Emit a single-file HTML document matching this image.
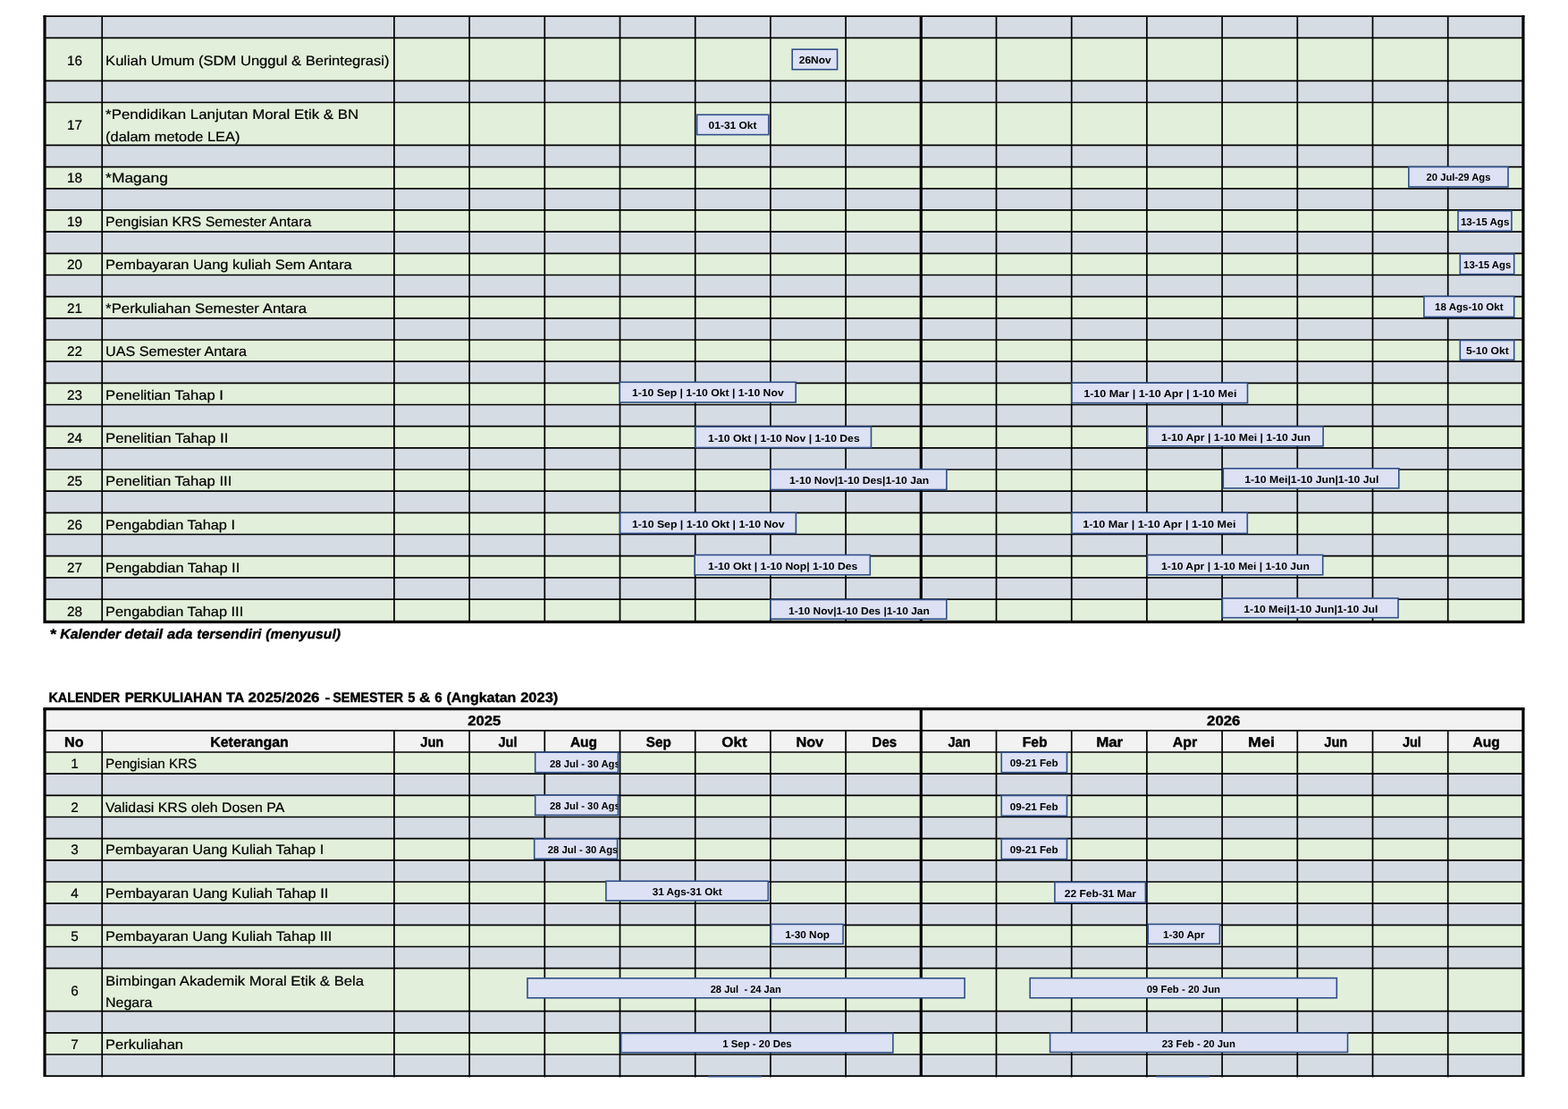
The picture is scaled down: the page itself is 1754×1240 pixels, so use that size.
<!DOCTYPE html>
<html lang="id">
<head>
<meta charset="utf-8">
<title>Kalender Perkuliahan TA 2025/2026</title>
<style>
html,body{margin:0;padding:0;background:#fff;}
body{width:1754px;height:1240px;overflow:hidden;}
svg{display:block;}
svg text{stroke:#000;stroke-width:0.2px;}
svg text.hb{stroke-width:0.4px;}
svg text.bx{stroke:none;}
svg text{font-family:"Liberation Sans",sans-serif;fill:#000;white-space:pre;text-rendering:geometricPrecision;}
</style>
</head>
<body>
<svg width="1754" height="1240" viewBox="0 0 1754 1240">
<rect width="1754" height="1240" fill="#fff"/>
<g id="table1">
<g id="fills1">
<rect x="50.00" y="18.18" width="1653.90" height="24.17" fill="#D6DCE4"/>
<rect x="50.00" y="42.35" width="1653.90" height="47.97" fill="#E2EFDA"/>
<rect x="50.00" y="90.32" width="1653.90" height="24.17" fill="#D6DCE4"/>
<rect x="50.00" y="114.49" width="1653.90" height="47.97" fill="#E2EFDA"/>
<rect x="50.00" y="162.46" width="1653.90" height="24.17" fill="#D6DCE4"/>
<rect x="50.00" y="186.63" width="1653.90" height="24.17" fill="#E2EFDA"/>
<rect x="50.00" y="210.80" width="1653.90" height="24.17" fill="#D6DCE4"/>
<rect x="50.00" y="234.97" width="1653.90" height="24.17" fill="#E2EFDA"/>
<rect x="50.00" y="259.14" width="1653.90" height="24.17" fill="#D6DCE4"/>
<rect x="50.00" y="283.31" width="1653.90" height="24.17" fill="#E2EFDA"/>
<rect x="50.00" y="307.48" width="1653.90" height="24.17" fill="#D6DCE4"/>
<rect x="50.00" y="331.65" width="1653.90" height="24.17" fill="#E2EFDA"/>
<rect x="50.00" y="355.82" width="1653.90" height="24.17" fill="#D6DCE4"/>
<rect x="50.00" y="379.99" width="1653.90" height="24.17" fill="#E2EFDA"/>
<rect x="50.00" y="404.16" width="1653.90" height="24.17" fill="#D6DCE4"/>
<rect x="50.00" y="428.33" width="1653.90" height="24.17" fill="#E2EFDA"/>
<rect x="50.00" y="452.50" width="1653.90" height="24.17" fill="#D6DCE4"/>
<rect x="50.00" y="476.67" width="1653.90" height="24.17" fill="#E2EFDA"/>
<rect x="50.00" y="500.84" width="1653.90" height="24.17" fill="#D6DCE4"/>
<rect x="50.00" y="525.01" width="1653.90" height="24.17" fill="#E2EFDA"/>
<rect x="50.00" y="549.18" width="1653.90" height="24.17" fill="#D6DCE4"/>
<rect x="50.00" y="573.35" width="1653.90" height="24.17" fill="#E2EFDA"/>
<rect x="50.00" y="597.52" width="1653.90" height="24.17" fill="#D6DCE4"/>
<rect x="50.00" y="621.69" width="1653.90" height="24.17" fill="#E2EFDA"/>
<rect x="50.00" y="645.86" width="1653.90" height="24.17" fill="#D6DCE4"/>
<rect x="50.00" y="670.03" width="1653.90" height="24.17" fill="#E2EFDA"/>
</g>
<g id="grid1">
<line x1="50.00" y1="42.35" x2="1703.90" y2="42.35" stroke="#000" stroke-width="1.7"/>
<line x1="50.00" y1="90.32" x2="1703.90" y2="90.32" stroke="#000" stroke-width="1.7"/>
<line x1="50.00" y1="114.49" x2="1703.90" y2="114.49" stroke="#000" stroke-width="1.7"/>
<line x1="50.00" y1="162.46" x2="1703.90" y2="162.46" stroke="#000" stroke-width="1.7"/>
<line x1="50.00" y1="186.63" x2="1703.90" y2="186.63" stroke="#000" stroke-width="1.7"/>
<line x1="50.00" y1="210.80" x2="1703.90" y2="210.80" stroke="#000" stroke-width="1.7"/>
<line x1="50.00" y1="234.97" x2="1703.90" y2="234.97" stroke="#000" stroke-width="1.7"/>
<line x1="50.00" y1="259.14" x2="1703.90" y2="259.14" stroke="#000" stroke-width="1.7"/>
<line x1="50.00" y1="283.31" x2="1703.90" y2="283.31" stroke="#000" stroke-width="1.7"/>
<line x1="50.00" y1="307.48" x2="1703.90" y2="307.48" stroke="#000" stroke-width="1.7"/>
<line x1="50.00" y1="331.65" x2="1703.90" y2="331.65" stroke="#000" stroke-width="1.7"/>
<line x1="50.00" y1="355.82" x2="1703.90" y2="355.82" stroke="#000" stroke-width="1.7"/>
<line x1="50.00" y1="379.99" x2="1703.90" y2="379.99" stroke="#000" stroke-width="1.7"/>
<line x1="50.00" y1="404.16" x2="1703.90" y2="404.16" stroke="#000" stroke-width="1.7"/>
<line x1="50.00" y1="428.33" x2="1703.90" y2="428.33" stroke="#000" stroke-width="1.7"/>
<line x1="50.00" y1="452.50" x2="1703.90" y2="452.50" stroke="#000" stroke-width="1.7"/>
<line x1="50.00" y1="476.67" x2="1703.90" y2="476.67" stroke="#000" stroke-width="1.7"/>
<line x1="50.00" y1="500.84" x2="1703.90" y2="500.84" stroke="#000" stroke-width="1.7"/>
<line x1="50.00" y1="525.01" x2="1703.90" y2="525.01" stroke="#000" stroke-width="1.7"/>
<line x1="50.00" y1="549.18" x2="1703.90" y2="549.18" stroke="#000" stroke-width="1.7"/>
<line x1="50.00" y1="573.35" x2="1703.90" y2="573.35" stroke="#000" stroke-width="1.7"/>
<line x1="50.00" y1="597.52" x2="1703.90" y2="597.52" stroke="#000" stroke-width="1.7"/>
<line x1="50.00" y1="621.69" x2="1703.90" y2="621.69" stroke="#000" stroke-width="1.7"/>
<line x1="50.00" y1="645.86" x2="1703.90" y2="645.86" stroke="#000" stroke-width="1.7"/>
<line x1="50.00" y1="670.03" x2="1703.90" y2="670.03" stroke="#000" stroke-width="1.7"/>
<line x1="114.20" y1="18.18" x2="114.20" y2="694.20" stroke="#000" stroke-width="1.7"/>
<line x1="440.90" y1="18.18" x2="440.90" y2="694.20" stroke="#000" stroke-width="1.7"/>
<line x1="525.10" y1="18.18" x2="525.10" y2="694.20" stroke="#000" stroke-width="1.7"/>
<line x1="609.30" y1="18.18" x2="609.30" y2="694.20" stroke="#000" stroke-width="1.7"/>
<line x1="693.50" y1="18.18" x2="693.50" y2="694.20" stroke="#000" stroke-width="1.7"/>
<line x1="777.70" y1="18.18" x2="777.70" y2="694.20" stroke="#000" stroke-width="1.7"/>
<line x1="861.90" y1="18.18" x2="861.90" y2="694.20" stroke="#000" stroke-width="1.7"/>
<line x1="946.10" y1="18.18" x2="946.10" y2="694.20" stroke="#000" stroke-width="1.7"/>
<line x1="1114.50" y1="18.18" x2="1114.50" y2="694.20" stroke="#000" stroke-width="1.7"/>
<line x1="1198.70" y1="18.18" x2="1198.70" y2="694.20" stroke="#000" stroke-width="1.7"/>
<line x1="1282.90" y1="18.18" x2="1282.90" y2="694.20" stroke="#000" stroke-width="1.7"/>
<line x1="1367.10" y1="18.18" x2="1367.10" y2="694.20" stroke="#000" stroke-width="1.7"/>
<line x1="1451.30" y1="18.18" x2="1451.30" y2="694.20" stroke="#000" stroke-width="1.7"/>
<line x1="1535.50" y1="18.18" x2="1535.50" y2="694.20" stroke="#000" stroke-width="1.7"/>
<line x1="1619.70" y1="18.18" x2="1619.70" y2="694.20" stroke="#000" stroke-width="1.7"/>
<line x1="48.50" y1="18.15" x2="1705.50" y2="18.15" stroke="#000" stroke-width="1.7"/>
<line x1="1030.30" y1="18.18" x2="1030.30" y2="694.20" stroke="#000" stroke-width="3.2"/>
<line x1="50.00" y1="17.25" x2="50.00" y2="696.90" stroke="#000" stroke-width="3.2"/>
<line x1="1703.90" y1="17.25" x2="1703.90" y2="696.90" stroke="#000" stroke-width="3.2"/>
<line x1="50.00" y1="695.30" x2="1703.90" y2="695.30" stroke="#000" stroke-width="3.2"/>
</g>
<g id="labels1">
<text x="83.40" y="73.00" font-size="15.3" text-anchor="middle">16</text>
<text x="118.10" y="73.00" font-size="15.3" textLength="317.4" lengthAdjust="spacingAndGlyphs">Kuliah Umum (SDM Unggul &amp; Berintegrasi)</text>
<text x="83.40" y="144.50" font-size="15.3" text-anchor="middle">17</text>
<text x="118.10" y="133.00" font-size="15.3" textLength="283.1" lengthAdjust="spacingAndGlyphs">*Pendidikan Lanjutan Moral Etik &amp; BN</text>
<text x="118.10" y="157.90" font-size="15.3" textLength="150.3" lengthAdjust="spacingAndGlyphs">(dalam metode LEA)</text>
<text x="83.40" y="204.45" font-size="15.3" text-anchor="middle">18</text>
<text x="118.10" y="204.45" font-size="15.3" textLength="69.8" lengthAdjust="spacingAndGlyphs">*Magang</text>
<text x="83.40" y="252.65" font-size="15.3" text-anchor="middle">19</text>
<text x="118.10" y="252.65" font-size="15.3" textLength="230.2" lengthAdjust="spacingAndGlyphs">Pengisian KRS Semester Antara</text>
<text x="83.40" y="300.80" font-size="15.3" text-anchor="middle">20</text>
<text x="118.10" y="300.80" font-size="15.3" textLength="275.7" lengthAdjust="spacingAndGlyphs">Pembayaran Uang kuliah Sem Antara</text>
<text x="83.40" y="349.72" font-size="15.3" text-anchor="middle">21</text>
<text x="118.10" y="349.72" font-size="15.3" textLength="225.1" lengthAdjust="spacingAndGlyphs">*Perkuliahan Semester Antara</text>
<text x="83.40" y="398.06" font-size="15.3" text-anchor="middle">22</text>
<text x="118.10" y="398.06" font-size="15.3" textLength="158.0" lengthAdjust="spacingAndGlyphs">UAS Semester Antara</text>
<text x="83.40" y="447.05" font-size="15.3" text-anchor="middle">23</text>
<text x="118.10" y="447.05" font-size="15.3" textLength="131.8" lengthAdjust="spacingAndGlyphs">Penelitian Tahap I</text>
<text x="83.40" y="494.70" font-size="15.3" text-anchor="middle">24</text>
<text x="118.10" y="494.70" font-size="15.3" textLength="137.2" lengthAdjust="spacingAndGlyphs">Penelitian Tahap II</text>
<text x="83.40" y="542.75" font-size="15.3" text-anchor="middle">25</text>
<text x="118.10" y="542.75" font-size="15.3" textLength="141.2" lengthAdjust="spacingAndGlyphs">Penelitian Tahap III</text>
<text x="83.40" y="591.80" font-size="15.3" text-anchor="middle">26</text>
<text x="118.10" y="591.80" font-size="15.3" textLength="144.9" lengthAdjust="spacingAndGlyphs">Pengabdian Tahap I</text>
<text x="83.40" y="640.00" font-size="15.3" text-anchor="middle">27</text>
<text x="118.10" y="640.00" font-size="15.3" textLength="150.1" lengthAdjust="spacingAndGlyphs">Pengabdian Tahap II</text>
<text x="83.40" y="688.60" font-size="15.3" text-anchor="middle">28</text>
<text x="118.10" y="688.60" font-size="15.3" textLength="154.1" lengthAdjust="spacingAndGlyphs">Pengabdian Tahap III</text>
</g>
<g id="boxes1">
<rect x="886.20" y="55.20" width="50.40" height="22.50" fill="#DCE1F3" stroke="#2F4E87" stroke-width="1.6"/>
<text x="893.80" y="71.00" font-size="11.5" font-weight="bold" class="bx" textLength="35.9" lengthAdjust="spacingAndGlyphs">26Nov</text>
<rect x="779.60" y="128.30" width="80.20" height="22.30" fill="#DCE1F3" stroke="#2F4E87" stroke-width="1.6"/>
<text x="792.60" y="144.00" font-size="11.5" font-weight="bold" class="bx" textLength="53.9" lengthAdjust="spacingAndGlyphs">01-31 Okt</text>
<rect x="1575.80" y="186.60" width="111.20" height="22.30" fill="#DCE1F3" stroke="#2F4E87" stroke-width="1.6"/>
<text x="1595.60" y="202.00" font-size="11.5" font-weight="bold" class="bx" textLength="71.8" lengthAdjust="spacingAndGlyphs">20 Jul-29 Ags</text>
<rect x="1631.00" y="235.80" width="59.90" height="22.40" fill="#DCE1F3" stroke="#2F4E87" stroke-width="1.6"/>
<text x="1633.90" y="252.00" font-size="11.5" font-weight="bold" class="bx" textLength="54.5" lengthAdjust="spacingAndGlyphs">13-15 Ags</text>
<rect x="1633.30" y="284.00" width="60.40" height="22.60" fill="#DCE1F3" stroke="#2F4E87" stroke-width="1.6"/>
<text x="1637.10" y="300.00" font-size="11.5" font-weight="bold" class="bx" textLength="53.2" lengthAdjust="spacingAndGlyphs">13-15 Ags</text>
<rect x="1592.90" y="331.40" width="100.80" height="23.00" fill="#DCE1F3" stroke="#2F4E87" stroke-width="1.6"/>
<text x="1605.10" y="347.00" font-size="11.5" font-weight="bold" class="bx" textLength="76.4" lengthAdjust="spacingAndGlyphs">18 Ags-10 Okt</text>
<rect x="1633.30" y="380.50" width="60.40" height="21.90" fill="#DCE1F3" stroke="#2F4E87" stroke-width="1.6"/>
<text x="1640.00" y="396.00" font-size="11.5" font-weight="bold" class="bx" textLength="47.7" lengthAdjust="spacingAndGlyphs">5-10 Okt</text>
<rect x="693.30" y="427.30" width="196.90" height="22.60" fill="#DCE1F3" stroke="#2F4E87" stroke-width="1.6"/>
<text x="706.90" y="443.00" font-size="11.5" font-weight="bold" class="bx" textLength="169.8" lengthAdjust="spacingAndGlyphs">1-10 Sep | 1-10 Okt | 1-10 Nov</text>
<rect x="1198.95" y="428.10" width="196.55" height="22.50" fill="#DCE1F3" stroke="#2F4E87" stroke-width="1.6"/>
<text x="1212.20" y="444.00" font-size="11.5" font-weight="bold" class="bx" textLength="171.3" lengthAdjust="spacingAndGlyphs">1-10 Mar | 1-10 Apr | 1-10 Mei</text>
<rect x="778.00" y="477.10" width="196.50" height="23.40" fill="#DCE1F3" stroke="#2F4E87" stroke-width="1.6"/>
<text x="792.10" y="494.00" font-size="11.5" font-weight="bold" class="bx" textLength="169.6" lengthAdjust="spacingAndGlyphs">1-10 Okt | 1-10 Nov | 1-10 Des</text>
<rect x="1283.60" y="477.00" width="196.50" height="21.80" fill="#DCE1F3" stroke="#2F4E87" stroke-width="1.6"/>
<text x="1299.10" y="493.00" font-size="11.5" font-weight="bold" class="bx" textLength="166.9" lengthAdjust="spacingAndGlyphs">1-10 Apr | 1-10 Mei | 1-10 Jun</text>
<rect x="862.00" y="524.70" width="196.90" height="22.80" fill="#DCE1F3" stroke="#2F4E87" stroke-width="1.6"/>
<text x="883.10" y="541.00" font-size="11.5" font-weight="bold" class="bx" textLength="156.0" lengthAdjust="spacingAndGlyphs">1-10 Nov|1-10 Des|1-10 Jan</text>
<rect x="1368.30" y="523.80" width="196.50" height="22.10" fill="#DCE1F3" stroke="#2F4E87" stroke-width="1.6"/>
<text x="1392.20" y="540.00" font-size="11.5" font-weight="bold" class="bx" textLength="150.2" lengthAdjust="spacingAndGlyphs">1-10 Mei|1-10 Jun|1-10 Jul</text>
<rect x="693.70" y="573.30" width="196.70" height="23.10" fill="#DCE1F3" stroke="#2F4E87" stroke-width="1.6"/>
<text x="706.90" y="590.00" font-size="11.5" font-weight="bold" class="bx" textLength="170.7" lengthAdjust="spacingAndGlyphs">1-10 Sep | 1-10 Okt | 1-10 Nov</text>
<rect x="1198.95" y="573.30" width="196.35" height="23.10" fill="#DCE1F3" stroke="#2F4E87" stroke-width="1.6"/>
<text x="1211.20" y="590.00" font-size="11.5" font-weight="bold" class="bx" textLength="171.3" lengthAdjust="spacingAndGlyphs">1-10 Mar | 1-10 Apr | 1-10 Mei</text>
<rect x="777.10" y="620.50" width="196.20" height="22.30" fill="#DCE1F3" stroke="#2F4E87" stroke-width="1.6"/>
<text x="792.10" y="637.00" font-size="11.5" font-weight="bold" class="bx" textLength="167.3" lengthAdjust="spacingAndGlyphs">1-10 Okt | 1-10 Nop| 1-10 Des</text>
<rect x="1283.40" y="620.50" width="196.30" height="22.30" fill="#DCE1F3" stroke="#2F4E87" stroke-width="1.6"/>
<text x="1299.10" y="637.00" font-size="11.5" font-weight="bold" class="bx" textLength="165.8" lengthAdjust="spacingAndGlyphs">1-10 Apr | 1-10 Mei | 1-10 Jun</text>
<rect x="862.00" y="670.50" width="196.80" height="21.60" fill="#DCE1F3" stroke="#2F4E87" stroke-width="1.6"/>
<text x="882.10" y="687.00" font-size="11.5" font-weight="bold" class="bx" textLength="157.8" lengthAdjust="spacingAndGlyphs">1-10 Nov|1-10 Des |1-10 Jan</text>
<rect x="1367.40" y="668.90" width="196.60" height="21.80" fill="#DCE1F3" stroke="#2F4E87" stroke-width="1.6"/>
<text x="1391.30" y="685.00" font-size="11.5" font-weight="bold" class="bx" textLength="150.0" lengthAdjust="spacingAndGlyphs">1-10 Mei|1-10 Jun|1-10 Jul</text>
</g>
</g>
<text class="hb" y="714.20" font-size="15.3" font-weight="bold" font-style="italic"><tspan x="55.60" textLength="7.0" lengthAdjust="spacingAndGlyphs">*</tspan> <tspan x="67.30" textLength="67.9" lengthAdjust="spacingAndGlyphs">Kalender</tspan> <tspan x="139.60" textLength="42.4" lengthAdjust="spacingAndGlyphs">detail</tspan> <tspan x="187.00" textLength="28.3" lengthAdjust="spacingAndGlyphs">ada</tspan> <tspan x="220.20" textLength="72.3" lengthAdjust="spacingAndGlyphs">tersendiri</tspan> <tspan x="297.20" textLength="83.9" lengthAdjust="spacingAndGlyphs">(menyusul)</tspan></text>
<text class="hb" y="785.20" font-size="15.3" font-weight="bold"><tspan x="54.40" textLength="79.8" lengthAdjust="spacingAndGlyphs">KALENDER</tspan> <tspan x="139.70" textLength="108.6" lengthAdjust="spacingAndGlyphs">PERKULIAHAN</tspan> <tspan x="253.10" textLength="19.6" lengthAdjust="spacingAndGlyphs">TA</tspan> <tspan x="277.60" textLength="79.9" lengthAdjust="spacingAndGlyphs">2025/2026</tspan> <tspan x="363.50" textLength="5.6" lengthAdjust="spacingAndGlyphs">-</tspan> <tspan x="372.30" textLength="78.9" lengthAdjust="spacingAndGlyphs">SEMESTER</tspan> <tspan x="456.30" textLength="8.2" lengthAdjust="spacingAndGlyphs">5</tspan> <tspan x="468.90" textLength="12.4" lengthAdjust="spacingAndGlyphs">&amp;</tspan> <tspan x="486.20" textLength="8.4" lengthAdjust="spacingAndGlyphs">6</tspan> <tspan x="499.50" textLength="77.8" lengthAdjust="spacingAndGlyphs">(Angkatan</tspan> <tspan x="582.20" textLength="42.1" lengthAdjust="spacingAndGlyphs">2023)</tspan></text>
<g id="table2">
<g id="fills2">
<rect x="50.00" y="792.64" width="1653.90" height="24.17" fill="#F2F2F2"/>
<rect x="50.00" y="816.81" width="1653.90" height="24.17" fill="#F2F2F2"/>
<rect x="50.00" y="840.98" width="1653.90" height="24.17" fill="#E2EFDA"/>
<rect x="50.00" y="865.15" width="1653.90" height="24.17" fill="#D6DCE4"/>
<rect x="50.00" y="889.32" width="1653.90" height="24.17" fill="#E2EFDA"/>
<rect x="50.00" y="913.49" width="1653.90" height="24.17" fill="#D6DCE4"/>
<rect x="50.00" y="937.66" width="1653.90" height="24.17" fill="#E2EFDA"/>
<rect x="50.00" y="961.83" width="1653.90" height="24.17" fill="#D6DCE4"/>
<rect x="50.00" y="986.00" width="1653.90" height="24.17" fill="#E2EFDA"/>
<rect x="50.00" y="1010.17" width="1653.90" height="24.17" fill="#D6DCE4"/>
<rect x="50.00" y="1034.34" width="1653.90" height="24.17" fill="#E2EFDA"/>
<rect x="50.00" y="1058.51" width="1653.90" height="24.17" fill="#D6DCE4"/>
<rect x="50.00" y="1082.68" width="1653.90" height="47.97" fill="#E2EFDA"/>
<rect x="50.00" y="1130.65" width="1653.90" height="24.17" fill="#D6DCE4"/>
<rect x="50.00" y="1154.82" width="1653.90" height="24.17" fill="#E2EFDA"/>
<rect x="50.00" y="1178.99" width="1653.90" height="24.17" fill="#D6DCE4"/>
</g>
<g id="grid2">
<line x1="50.00" y1="816.81" x2="1703.90" y2="816.81" stroke="#000" stroke-width="1.7"/>
<line x1="50.00" y1="840.98" x2="1703.90" y2="840.98" stroke="#000" stroke-width="1.7"/>
<line x1="50.00" y1="865.15" x2="1703.90" y2="865.15" stroke="#000" stroke-width="1.7"/>
<line x1="50.00" y1="889.32" x2="1703.90" y2="889.32" stroke="#000" stroke-width="1.7"/>
<line x1="50.00" y1="913.49" x2="1703.90" y2="913.49" stroke="#000" stroke-width="1.7"/>
<line x1="50.00" y1="937.66" x2="1703.90" y2="937.66" stroke="#000" stroke-width="1.7"/>
<line x1="50.00" y1="961.83" x2="1703.90" y2="961.83" stroke="#000" stroke-width="1.7"/>
<line x1="50.00" y1="986.00" x2="1703.90" y2="986.00" stroke="#000" stroke-width="1.7"/>
<line x1="50.00" y1="1010.17" x2="1703.90" y2="1010.17" stroke="#000" stroke-width="1.7"/>
<line x1="50.00" y1="1034.34" x2="1703.90" y2="1034.34" stroke="#000" stroke-width="1.7"/>
<line x1="50.00" y1="1058.51" x2="1703.90" y2="1058.51" stroke="#000" stroke-width="1.7"/>
<line x1="50.00" y1="1082.68" x2="1703.90" y2="1082.68" stroke="#000" stroke-width="1.7"/>
<line x1="50.00" y1="1130.65" x2="1703.90" y2="1130.65" stroke="#000" stroke-width="1.7"/>
<line x1="50.00" y1="1154.82" x2="1703.90" y2="1154.82" stroke="#000" stroke-width="1.7"/>
<line x1="50.00" y1="1178.99" x2="1703.90" y2="1178.99" stroke="#000" stroke-width="1.7"/>
<line x1="50.00" y1="1203.16" x2="1703.90" y2="1203.16" stroke="#000" stroke-width="1.7"/>
<line x1="114.20" y1="816.81" x2="114.20" y2="1204.61" stroke="#000" stroke-width="1.7"/>
<line x1="440.90" y1="816.81" x2="440.90" y2="1204.61" stroke="#000" stroke-width="1.7"/>
<line x1="525.10" y1="816.81" x2="525.10" y2="1204.61" stroke="#000" stroke-width="1.7"/>
<line x1="609.30" y1="816.81" x2="609.30" y2="1204.61" stroke="#000" stroke-width="1.7"/>
<line x1="693.50" y1="816.81" x2="693.50" y2="1204.61" stroke="#000" stroke-width="1.7"/>
<line x1="777.70" y1="816.81" x2="777.70" y2="1204.61" stroke="#000" stroke-width="1.7"/>
<line x1="861.90" y1="816.81" x2="861.90" y2="1204.61" stroke="#000" stroke-width="1.7"/>
<line x1="946.10" y1="816.81" x2="946.10" y2="1204.61" stroke="#000" stroke-width="1.7"/>
<line x1="1114.50" y1="816.81" x2="1114.50" y2="1204.61" stroke="#000" stroke-width="1.7"/>
<line x1="1198.70" y1="816.81" x2="1198.70" y2="1204.61" stroke="#000" stroke-width="1.7"/>
<line x1="1282.90" y1="816.81" x2="1282.90" y2="1204.61" stroke="#000" stroke-width="1.7"/>
<line x1="1367.10" y1="816.81" x2="1367.10" y2="1204.61" stroke="#000" stroke-width="1.7"/>
<line x1="1451.30" y1="816.81" x2="1451.30" y2="1204.61" stroke="#000" stroke-width="1.7"/>
<line x1="1535.50" y1="816.81" x2="1535.50" y2="1204.61" stroke="#000" stroke-width="1.7"/>
<line x1="1619.70" y1="816.81" x2="1619.70" y2="1204.61" stroke="#000" stroke-width="1.7"/>
<line x1="1030.30" y1="792.64" x2="1030.30" y2="1204.01" stroke="#000" stroke-width="3.2"/>
<line x1="48.40" y1="792.60" x2="1705.50" y2="792.60" stroke="#000" stroke-width="3.2"/>
<line x1="50.00" y1="792.60" x2="50.00" y2="1204.01" stroke="#000" stroke-width="3.2"/>
<line x1="1703.90" y1="792.60" x2="1703.90" y2="1204.01" stroke="#000" stroke-width="3.2"/>
</g>
<g id="head2">
<text x="541.80" y="810.50" font-size="15.3" font-weight="bold" text-anchor="middle" class="hb" textLength="37.0" lengthAdjust="spacingAndGlyphs">2025</text>
<text x="1368.70" y="810.50" font-size="15.3" font-weight="bold" text-anchor="middle" class="hb" textLength="37.2" lengthAdjust="spacingAndGlyphs">2026</text>
<text x="82.80" y="834.50" font-size="15.7" font-weight="bold" text-anchor="middle" class="hb" textLength="21.5" lengthAdjust="spacingAndGlyphs">No</text>
<text x="279.00" y="834.50" font-size="15.7" font-weight="bold" text-anchor="middle" class="hb" textLength="87.5" lengthAdjust="spacingAndGlyphs">Keterangan</text>
<text x="483.30" y="834.50" font-size="15.7" font-weight="bold" text-anchor="middle" class="hb" textLength="26.0" lengthAdjust="spacingAndGlyphs">Jun</text>
<text x="568.00" y="834.50" font-size="15.7" font-weight="bold" text-anchor="middle" class="hb" textLength="21.0" lengthAdjust="spacingAndGlyphs">Jul</text>
<text x="653.00" y="834.50" font-size="15.7" font-weight="bold" text-anchor="middle" class="hb" textLength="30.2" lengthAdjust="spacingAndGlyphs">Aug</text>
<text x="736.80" y="834.50" font-size="15.7" font-weight="bold" text-anchor="middle" class="hb" textLength="28.0" lengthAdjust="spacingAndGlyphs">Sep</text>
<text x="821.50" y="834.50" font-size="15.7" font-weight="bold" text-anchor="middle" class="hb" textLength="28.3" lengthAdjust="spacingAndGlyphs">Okt</text>
<text x="905.80" y="834.50" font-size="15.7" font-weight="bold" text-anchor="middle" class="hb" textLength="30.8" lengthAdjust="spacingAndGlyphs">Nov</text>
<text x="989.40" y="834.50" font-size="15.7" font-weight="bold" text-anchor="middle" class="hb" textLength="27.7" lengthAdjust="spacingAndGlyphs">Des</text>
<text x="1073.10" y="834.50" font-size="15.7" font-weight="bold" text-anchor="middle" class="hb" textLength="25.3" lengthAdjust="spacingAndGlyphs">Jan</text>
<text x="1157.70" y="834.50" font-size="15.7" font-weight="bold" text-anchor="middle" class="hb" textLength="27.9" lengthAdjust="spacingAndGlyphs">Feb</text>
<text x="1241.20" y="834.50" font-size="15.7" font-weight="bold" text-anchor="middle" class="hb" textLength="30.0" lengthAdjust="spacingAndGlyphs">Mar</text>
<text x="1325.50" y="834.50" font-size="15.7" font-weight="bold" text-anchor="middle" class="hb" textLength="27.4" lengthAdjust="spacingAndGlyphs">Apr</text>
<text x="1411.00" y="834.50" font-size="15.7" font-weight="bold" text-anchor="middle" class="hb" textLength="29.9" lengthAdjust="spacingAndGlyphs">Mei</text>
<text x="1494.30" y="834.50" font-size="15.7" font-weight="bold" text-anchor="middle" class="hb" textLength="26.0" lengthAdjust="spacingAndGlyphs">Jun</text>
<text x="1579.40" y="834.50" font-size="15.7" font-weight="bold" text-anchor="middle" class="hb" textLength="21.0" lengthAdjust="spacingAndGlyphs">Jul</text>
<text x="1662.60" y="834.50" font-size="15.7" font-weight="bold" text-anchor="middle" class="hb" textLength="30.2" lengthAdjust="spacingAndGlyphs">Aug</text>
</g>
<g id="labels2">
<text x="83.40" y="858.70" font-size="15.3" text-anchor="middle">1</text>
<text x="118.10" y="858.70" font-size="15.3" textLength="102.1" lengthAdjust="spacingAndGlyphs">Pengisian KRS</text>
<text x="83.40" y="907.70" font-size="15.3" text-anchor="middle">2</text>
<text x="118.10" y="907.70" font-size="15.3" textLength="200.1" lengthAdjust="spacingAndGlyphs">Validasi KRS oleh Dosen PA</text>
<text x="83.40" y="955.40" font-size="15.3" text-anchor="middle">3</text>
<text x="118.10" y="955.40" font-size="15.3" textLength="244.1" lengthAdjust="spacingAndGlyphs">Pembayaran Uang Kuliah Tahap I</text>
<text x="83.40" y="1004.40" font-size="15.3" text-anchor="middle">4</text>
<text x="118.10" y="1004.40" font-size="15.3" textLength="249.3" lengthAdjust="spacingAndGlyphs">Pembayaran Uang Kuliah Tahap II</text>
<text x="83.40" y="1052.40" font-size="15.3" text-anchor="middle">5</text>
<text x="118.10" y="1052.40" font-size="15.3" textLength="253.3" lengthAdjust="spacingAndGlyphs">Pembayaran Uang Kuliah Tahap III</text>
<text x="83.40" y="1112.60" font-size="15.3" text-anchor="middle">6</text>
<text x="118.10" y="1101.90" font-size="15.3" textLength="289.0" lengthAdjust="spacingAndGlyphs">Bimbingan Akademik Moral Etik &amp; Bela</text>
<text x="118.10" y="1125.60" font-size="15.3" textLength="52.3" lengthAdjust="spacingAndGlyphs">Negara</text>
<text x="83.40" y="1172.60" font-size="15.3" text-anchor="middle">7</text>
<text x="118.10" y="1172.60" font-size="15.3" textLength="86.9" lengthAdjust="spacingAndGlyphs">Perkuliahan</text>
</g>
<g id="boxes2">
<clipPath id="c1"><rect x="597.90" y="840.40" width="93.39" height="24.10"/></clipPath>
<rect x="598.70" y="841.20" width="92.75" height="22.50" fill="#DCE1F3" stroke="#2F4E87" stroke-width="1.6"/>
<g clip-path="url(#c1)">
<text x="615.10" y="858.00" font-size="11.5" font-weight="bold" class="bx" textLength="78.6" lengthAdjust="spacingAndGlyphs">28 Jul - 30 Ags</text>
</g>
<clipPath id="c2"><rect x="597.90" y="888.30" width="93.39" height="23.90"/></clipPath>
<rect x="598.70" y="889.10" width="92.75" height="22.30" fill="#DCE1F3" stroke="#2F4E87" stroke-width="1.6"/>
<g clip-path="url(#c2)">
<text x="615.10" y="905.00" font-size="11.5" font-weight="bold" class="bx" textLength="78.6" lengthAdjust="spacingAndGlyphs">28 Jul - 30 Ags</text>
</g>
<clipPath id="c3"><rect x="596.90" y="937.20" width="93.54" height="23.90"/></clipPath>
<rect x="597.70" y="938.00" width="92.90" height="22.30" fill="#DCE1F3" stroke="#2F4E87" stroke-width="1.6"/>
<g clip-path="url(#c3)">
<text x="612.80" y="954.00" font-size="11.5" font-weight="bold" class="bx" textLength="78.6" lengthAdjust="spacingAndGlyphs">28 Jul - 30 Ags</text>
</g>
<rect x="1120.25" y="841.20" width="73.25" height="22.50" fill="#DCE1F3" stroke="#2F4E87" stroke-width="1.6"/>
<text x="1129.70" y="857.00" font-size="11.5" font-weight="bold" class="bx" textLength="54.1" lengthAdjust="spacingAndGlyphs">09-21 Feb</text>
<rect x="1120.25" y="889.50" width="73.25" height="22.70" fill="#DCE1F3" stroke="#2F4E87" stroke-width="1.6"/>
<text x="1129.70" y="905.50" font-size="11.5" font-weight="bold" class="bx" textLength="54.1" lengthAdjust="spacingAndGlyphs">09-21 Feb</text>
<rect x="1120.25" y="938.00" width="73.25" height="22.60" fill="#DCE1F3" stroke="#2F4E87" stroke-width="1.6"/>
<text x="1129.70" y="953.50" font-size="11.5" font-weight="bold" class="bx" textLength="54.1" lengthAdjust="spacingAndGlyphs">09-21 Feb</text>
<rect x="677.90" y="985.20" width="181.40" height="21.85" fill="#DCE1F3" stroke="#2F4E87" stroke-width="1.6"/>
<text x="729.70" y="1001.00" font-size="11.5" font-weight="bold" class="bx" textLength="78.1" lengthAdjust="spacingAndGlyphs">31 Ags-31 Okt</text>
<rect x="1179.90" y="986.40" width="101.50" height="22.80" fill="#DCE1F3" stroke="#2F4E87" stroke-width="1.6"/>
<text x="1190.80" y="1003.00" font-size="11.5" font-weight="bold" class="bx" textLength="80.2" lengthAdjust="spacingAndGlyphs">22 Feb-31 Mar</text>
<rect x="862.60" y="1033.40" width="80.50" height="22.00" fill="#DCE1F3" stroke="#2F4E87" stroke-width="1.6"/>
<text x="878.20" y="1049.00" font-size="11.5" font-weight="bold" class="bx" textLength="49.9" lengthAdjust="spacingAndGlyphs">1-30 Nop</text>
<rect x="1284.20" y="1033.40" width="80.20" height="22.00" fill="#DCE1F3" stroke="#2F4E87" stroke-width="1.6"/>
<text x="1301.10" y="1049.00" font-size="11.5" font-weight="bold" class="bx" textLength="46.5" lengthAdjust="spacingAndGlyphs">1-30 Apr</text>
<rect x="590.00" y="1093.80" width="489.10" height="22.00" fill="#DCE1F3" stroke="#2F4E87" stroke-width="1.6"/>
<text x="794.70" y="1110.00" font-size="11.5" font-weight="bold" class="bx" textLength="79.1" lengthAdjust="spacingAndGlyphs">28 Jul  - 24 Jan</text>
<rect x="1152.20" y="1093.60" width="343.10" height="22.20" fill="#DCE1F3" stroke="#2F4E87" stroke-width="1.6"/>
<text x="1282.70" y="1110.00" font-size="11.5" font-weight="bold" class="bx" textLength="82.4" lengthAdjust="spacingAndGlyphs">09 Feb - 20 Jun</text>
<rect x="694.70" y="1155.40" width="304.20" height="21.50" fill="#DCE1F3" stroke="#2F4E87" stroke-width="1.6"/>
<text x="808.20" y="1171.00" font-size="11.5" font-weight="bold" class="bx" textLength="77.4" lengthAdjust="spacingAndGlyphs">1 Sep - 20 Des</text>
<rect x="1174.60" y="1155.00" width="332.90" height="21.50" fill="#DCE1F3" stroke="#2F4E87" stroke-width="1.6"/>
<text x="1299.80" y="1171.00" font-size="11.5" font-weight="bold" class="bx" textLength="82.1" lengthAdjust="spacingAndGlyphs">23 Feb - 20 Jun</text>
<line x1="792.10" y1="1203.70" x2="851.90" y2="1203.70" stroke="#2F4E87" stroke-width="1.5"/>
<line x1="1293.10" y1="1203.70" x2="1352.80" y2="1203.70" stroke="#2F4E87" stroke-width="1.5"/>
</g>
</g>
</svg>
</body>
</html>
